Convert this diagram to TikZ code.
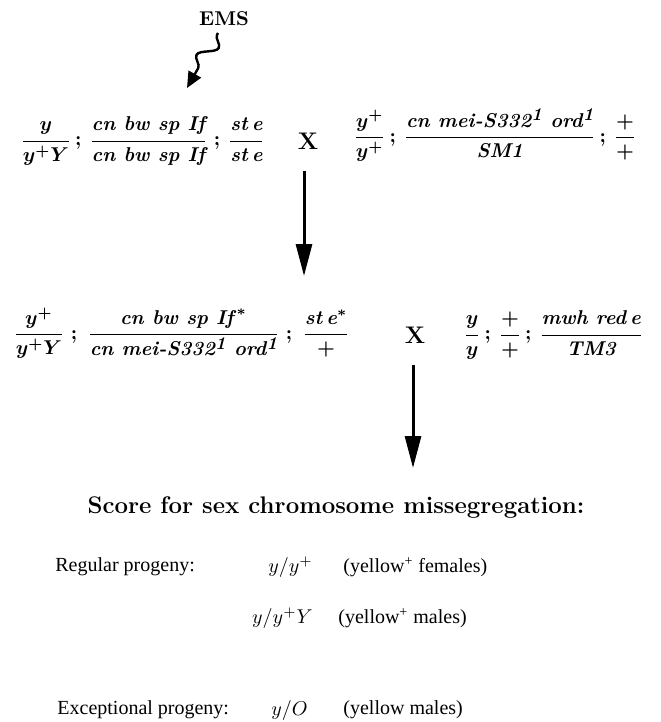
\documentclass[tikz,border=0pt]{standalone}
\usepackage{amsmath}
\usepackage{fontspec}
\newfontfamily\lblfont{Liberation Serif}
\usetikzlibrary{arrows.meta,decorations.pathmorphing}
\newcommand{\allele}[1]{\raisebox{0.7ex}{\small #1}}

\begin{document}
\begin{tikzpicture}[
  x=0.5pt,y=-0.5pt,
  geno/.style={anchor=west,inner sep=0pt,font=\bfseries\boldmath},
  cross/.style={font=\large\bfseries,inner sep=0pt},
  bigarr/.style={-{Triangle[length=16pt,width=8pt]},line width=1.5pt},
  squig/.style={-{Triangle[length=8pt,width=7pt]},line width=1.2pt,decorate,
    decoration={snake,amplitude=4pt,segment length=17pt,pre length=1pt,post length=5pt}},
  ttl/.style={font=\large\bfseries,inner sep=0pt},
  lbl/.style={anchor=west,inner sep=0pt,font=\lblfont},
  gt/.style={anchor=east,inner sep=0pt},
  ]
  \useasboundingbox (0,0) rectangle (660,722);
  % mutagen
  \node[font=\bfseries,inner sep=0pt] (ems) at (224,19) {EMS};
  \coordinate (sqtop) at (218,33);
  \coordinate (sqtip) at (187,88);
  \draw[squig] (sqtop) -- (sqtip);
  % parental cross
  \node[geno] (p1f) at (20,141) {$\dfrac{y}{y^{+}Y}\,;\,\dfrac{\textit{cn bw sp If}}{\textit{cn bw sp If}}\;;\,\dfrac{\textit{st\hspace{0.2em}e}}{\textit{st\hspace{0.2em}e}}$};
  \node[cross] (x1) at (308,141) {X};
  \node[geno] (p1m) at (353,135) {$\dfrac{y^{+}}{y^{+}}\,;\,\dfrac{\textit{cn mei-S332\allele{1} ord\allele{1}}}{\textit{SM1}}\,;\,\dfrac{+}{+}$};
  \coordinate (a1top) at (304,171);
  \coordinate (a1bot) at (304,276);
  \draw[bigarr] (a1top) -- (a1bot);
  % F1 cross
  \node[geno] (p2f) at (13,333) {$\dfrac{y^{+}}{y^{+}Y}\;;\;\dfrac{\textit{cn bw sp If}^{\,*}}{\textit{cn mei-S332\allele{1} ord\allele{1}}}\;;\;\dfrac{\textit{st\hspace{0.2em}e}^{*}}{+}$};
  \node[cross] (x2) at (415,335) {X};
  \node[geno] (p2m) at (463,335) {$\dfrac{y}{y}\,;\,\dfrac{+}{+}\,;\,\dfrac{\textit{mwh red\hspace{0.2em}e}}{\textit{TM3}}$};
  \coordinate (a2top) at (413,365);
  \coordinate (a2bot) at (413,468);
  \draw[bigarr] (a2top) -- (a2bot);
  % scoring
  \node[ttl] (score) at (336,508) {Score for sex chromosome missegregation:};
  \node[lbl] (reg) at (55,567) {Regular progeny:};
  \node[gt] (g1) at (313,567) {$y/y^{+}$};
  \node[lbl] (c1) at (343,567) {(yellow\textsuperscript{+} females)};
  \node[gt] (g2) at (313,618) {$y/y^{+}Y$};
  \node[lbl] (c2) at (338,618) {(yellow\textsuperscript{+} males)};
  \node[lbl] (exc) at (57,710) {Exceptional progeny:};
  \node[gt] (g3) at (308,710) {$y/O$};
  \node[lbl] (c3) at (343,710) {(yellow males)};
\end{tikzpicture}
\end{document}
